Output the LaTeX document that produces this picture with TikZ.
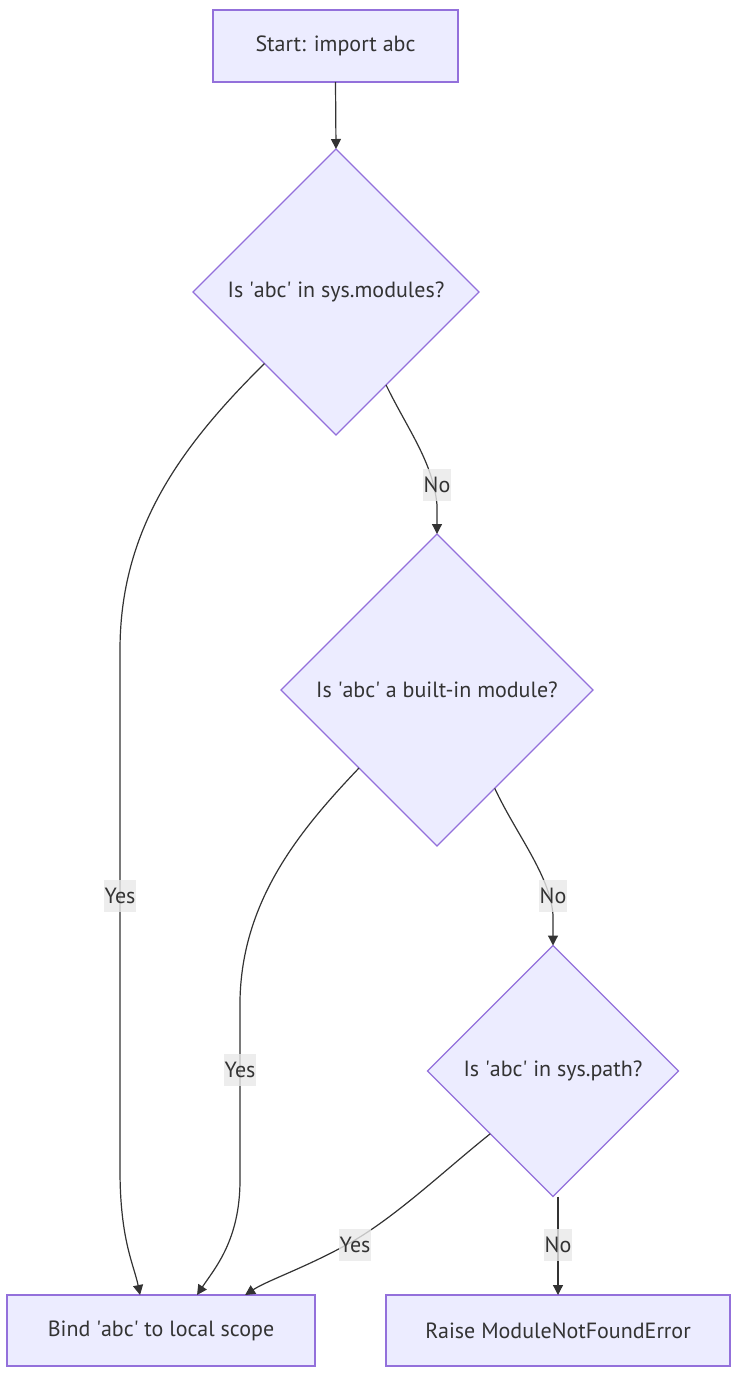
\documentclass[tikz,border=0pt]{standalone}
\usepackage{fontspec}
\setmainfont{PT Sans}
\usetikzlibrary{shapes.geometric,arrows.meta,calc}
\definecolor{nodefill}{HTML}{ECECFF}
\definecolor{nodeline}{HTML}{9370DB}
\definecolor{edgecol}{HTML}{333333}
\definecolor{lblbg}{HTML}{E8E8E8}
\begin{document}
\begin{tikzpicture}[x=1pt,y=-1pt,
  every node/.style={font=\fontsize{22}{26}\selectfont, text=edgecol},
  boxnode/.style={draw=nodeline, fill=nodefill, line width=1.3pt, rectangle, minimum height=71pt, inner sep=0pt, outer sep=0pt},
  decision/.style={draw=nodeline, fill=nodefill, line width=1.3pt, diamond, aspect=1, inner sep=0pt, outer sep=0pt},
  flow/.style={draw=edgecol, line width=1.2pt, -{Triangle[length=10pt,width=10pt]}},
  lbl/.style={fill=lblbg, fill opacity=0.8, text opacity=1, inner xsep=1pt, inner ysep=0pt, minimum height=32pt, text=edgecol}
]
\useasboundingbox (0,0) rectangle (736,1378);

\node[boxnode, minimum width=245pt, minimum height=72pt] (start) at (335.5,46) {Start: import abc};
\node[decision, minimum width=286pt, minimum height=286pt] (d1) at (336,292) {Is \textquotesingle abc\textquotesingle{} in sys.modules?};
\node[decision, minimum width=312pt, minimum height=312pt] (d2) at (437,690) {Is \textquotesingle abc\textquotesingle{} a built-in module?};
\node[decision, minimum width=251pt, minimum height=251pt] (d3) at (553,1071) {Is \textquotesingle abc\textquotesingle{} in sys.path?};
\node[boxnode, minimum width=308pt] (bind) at (161,1330.5) {Bind \textquotesingle abc\textquotesingle{} to local scope};
\node[boxnode, minimum width=344pt] (raise) at (558,1330.5) {Raise ModuleNotFoundError};

\draw[flow] (start.south) -- (d1.north);

\draw[flow] (d1.-135) .. controls (180,447) and (120,530) .. (120,650)
  -- (120,1170) node[lbl,pos=0.473]{Yes}
  .. controls (120,1240) and (134,1265) .. ($(bind.north west)!0.432!(bind.north east)$);

\draw[flow] ($(d1.south)!0.35!(d1.east)$) .. controls (408,430) and (433,462) .. (437,505)
  -- (d2.north) node[lbl] at (437,485) {No};

\draw[flow] (d2.-135) .. controls (300,830) and (242,900) .. (240,1000)
  -- (240,1180) node[lbl,pos=0.39]{Yes}
  .. controls (240,1240) and (215,1268) .. ($(bind.north west)!0.617!(bind.north east)$);

\draw[flow] ($(d2.south)!0.37!(d2.east)$) .. controls (516,834) and (550,875) .. (553,915)
  -- (d3.north) node[lbl] at (553,896) {No};

\draw[flow] (d3.-135) .. controls (445,1170) and (400,1213) .. (355,1240)
  .. controls (310,1266) and (268,1280) .. ($(bind.north west)!0.773!(bind.north east)$)
  node[lbl] at (355,1245) {Yes};

\draw[flow] (raise.north |- d3.south) -- (raise.north) node[lbl,pos=0.495]{No};
\end{tikzpicture}
\end{document}
